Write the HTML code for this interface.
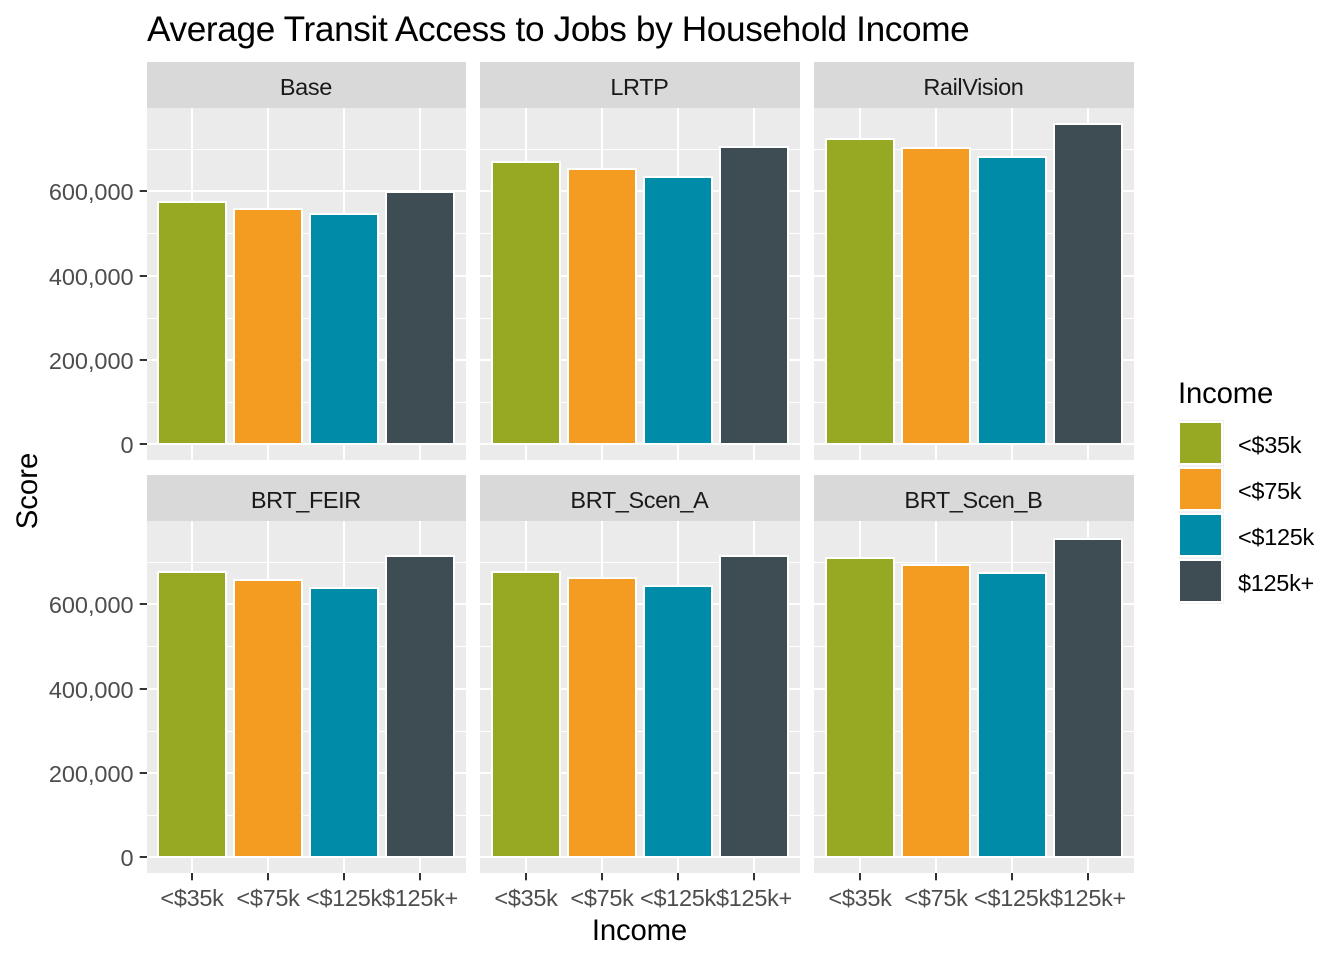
<!DOCTYPE html>
<html lang="en">
<head>
<meta charset="utf-8">
<title>Average Transit Access to Jobs by Household Income</title>
<style>
html,body{margin:0;padding:0;background:#fff;}
svg{display:block;}
text{font-family:"Liberation Sans",Arial,sans-serif;}
</style>
</head>
<body>
<svg id="chart" xmlns="http://www.w3.org/2000/svg" width="1344" height="960" viewBox="0 0 1344 960">
  <text x="147" y="41" font-size="35.2" letter-spacing="-0.36" fill="#000">Average Transit Access to Jobs by Household Income</text>
  <text x="639.5" y="940" font-size="29.3" letter-spacing="-0.15" fill="#000" text-anchor="middle">Income</text>
  <text transform="translate(37,491) rotate(-90)" font-size="29.3" fill="#000" text-anchor="middle">Score</text>
  <text x="1178" y="403" font-size="29.3" letter-spacing="-0.15" fill="#000">Income</text>
</svg>
<script>
const categories = ['<$35k', '<$75k', '<$125k', '$125k+'];
const facets = ['Base', 'LRTP', 'RailVision', 'BRT_FEIR', 'BRT_Scen_A', 'BRT_Scen_B'];
const baseValues = [574000, 557000, 545000, 597000];
const lrtpValues = [668000, 652000, 633000, 704000];
const railVisionValues = [723000, 702000, 680000, 758000];
const brtFeirValues = [676000, 657000, 638000, 714000];
const brtScenAValues = [676000, 662000, 643000, 714000];
const brtScenBValues = [709000, 693000, 674000, 754000];
const yTickValues = [0, 200000, 400000, 600000];
const yTickLabels = ['0', '200,000', '400,000', '600,000'];
const yMinorValues = [100000, 300000, 500000, 700000];

const seriesByFacet = [baseValues, lrtpValues, railVisionValues, brtFeirValues, brtScenAValues, brtScenBValues];
const colors = ['#97A823', '#F39C21', '#008CA8', '#3E4C54'];
const svg = document.getElementById('chart');
const NS = 'http://www.w3.org/2000/svg';

const panelLefts = [147, 480, 814];
const panelWidths = [319, 320, 320];
const firstBandCenters = [192, 526, 860];
const rowTops = [108, 521];
const panelHeight = 352;
const stripHeight = 46;
const zeroOffset = 336.4;
const pxPerUnit = 253.3 / 600000;
const bandStep = 76;
const barWidth = 68;

function xCenter(col, i) {
  return firstBandCenters[col] + i * bandStep;
}
function yScale(row, v) {
  return rowTops[row] + zeroOffset - v * pxPerUnit;
}
function make(tag, attrs, parent) {
  const el = document.createElementNS(NS, tag);
  for (const k in attrs) el.setAttribute(k, attrs[k]);
  parent.appendChild(el);
  return el;
}
function slug(s) {
  return s.toLowerCase().replace(/[^a-z0-9]+/g, '-').replace(/^-|-$/g, '');
}

facets.forEach(function (facet, f) {
  const col = f % 3;
  const row = Math.floor(f / 3);
  const left = panelLefts[col];
  const width = panelWidths[col];
  const top = rowTops[row];
  const key = slug(facet);

  const group = make('g', {}, svg);
  
  

  const strip = make('rect', { x: left, y: top - stripHeight, width: width, height: stripHeight, fill: '#D9D9D9' }, group);
  
  

  const stripLabel = make('text', { x: left + width / 2 - 0.6, y: top - stripHeight + 33, 'font-size': '23.5', 'letter-spacing': '-0.4', fill: '#1A1A1A', 'text-anchor': 'middle' }, group);
  stripLabel.textContent = facet;
  
  

  const panel = make('rect', { x: left, y: top, width: width, height: panelHeight, fill: '#EBEBEB' }, group);
  
  

  yMinorValues.forEach(function (v) {
    const y = Math.round(yScale(row, v)) + 0.5;
    const line = make('line', { x1: left, x2: left + width, y1: y, y2: y, stroke: '#fff', 'stroke-width': 1 }, group);
    
    
  });
  yTickValues.forEach(function (v) {
    const y = Math.round(yScale(row, v));
    const line = make('line', { x1: left, x2: left + width, y1: y, y2: y, stroke: '#fff', 'stroke-width': 2 }, group);
    
    
  });
  categories.forEach(function (c, i) {
    const x = xCenter(col, i);
    const line = make('line', { x1: x, x2: x, y1: top, y2: top + panelHeight, stroke: '#fff', 'stroke-width': 2 }, group);
    
    
  });

  seriesByFacet[f].forEach(function (v, i) {
    const yTop = Math.round(yScale(row, v));
    const yBase = Math.round(yScale(row, 0));
    const bar = make('rect', { x: xCenter(col, i) - barWidth / 2, y: yTop, width: barWidth, height: yBase - yTop, fill: colors[i], stroke: '#fff', 'stroke-width': 2 }, group);
    
    
  });

  if (col === 0) {
    yTickValues.forEach(function (v, t) {
      const y = Math.round(yScale(row, v));
      const tick = make('line', { x1: left - 7.3, x2: left, y1: y, y2: y, stroke: '#333', 'stroke-width': 2 }, group);
      
      
      const label = make('text', { x: left - 13.5, y: y + 9, 'font-size': '23.5', 'letter-spacing': '-0.05', fill: '#4D4D4D', 'text-anchor': 'end' }, group);
      label.textContent = yTickLabels[t];
      
      
    });
  }

  if (row === 1) {
    categories.forEach(function (c, i) {
      const x = xCenter(col, i);
      const tick = make('line', { x1: x, x2: x, y1: top + panelHeight, y2: top + panelHeight + 7.3, stroke: '#333', 'stroke-width': 2 }, group);
      
      
      const label = make('text', { x: x, y: 906, 'font-size': '23.5', 'letter-spacing': '-0.3', fill: '#4D4D4D', 'text-anchor': 'middle' }, group);
      label.textContent = c;
      
      
    });
  }
});

const legend = make('g', {}, svg);


categories.forEach(function (c, i) {
  const y = 420 + i * 46;
  const keyBg = make('rect', { x: 1178, y: y, width: 46, height: 46, fill: '#F2F2F2' }, legend);
  
  
  const swatch = make('rect', { x: 1179, y: y + 2, width: 43, height: 42, fill: colors[i], stroke: '#fff', 'stroke-width': 2 }, legend);
  
  
  const label = make('text', { x: 1238, y: y + 33, 'font-size': '23.5', 'letter-spacing': '-0.3', fill: '#000' }, legend);
  label.textContent = c;
  
  
});
</script>
</body>
</html>
